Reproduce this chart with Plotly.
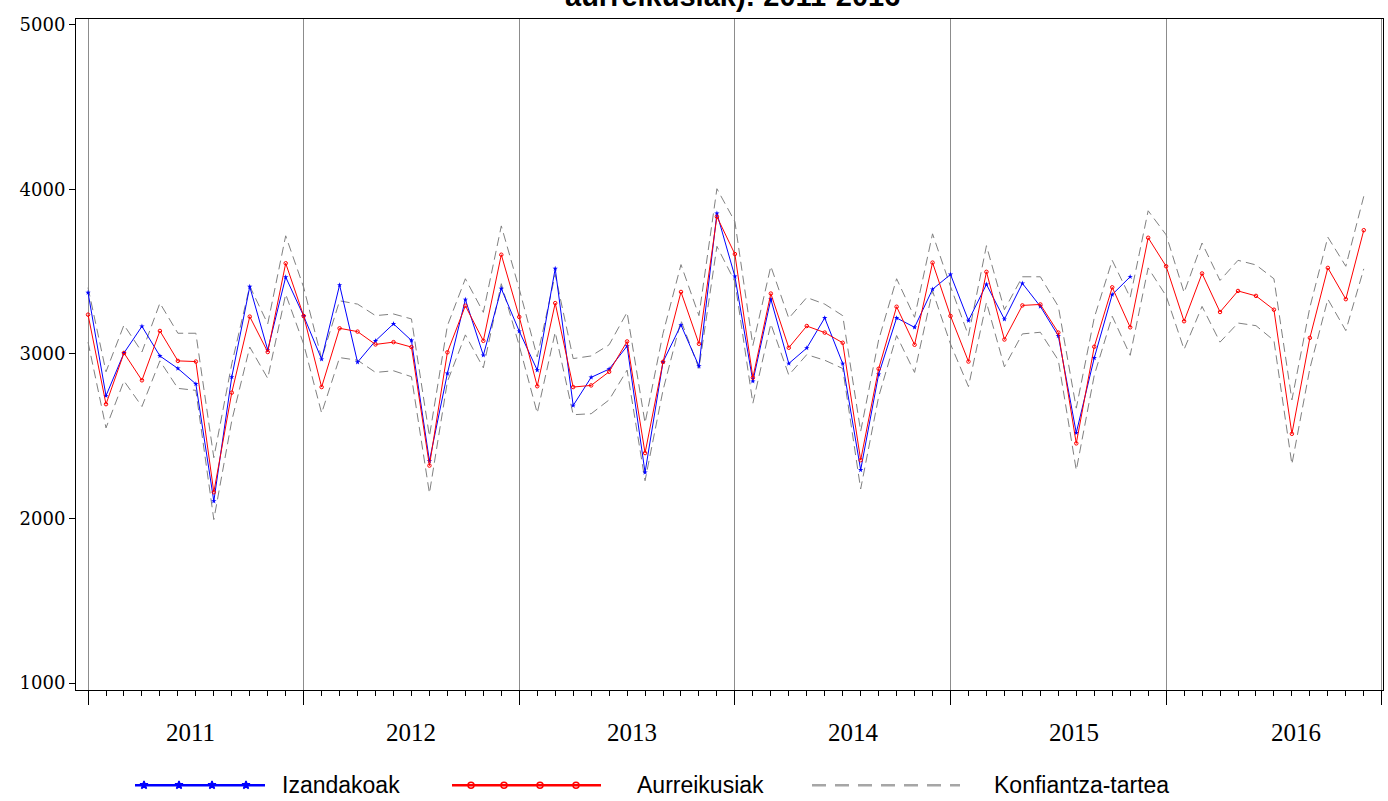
import plotly.graph_objects as go

# Monthly series, January 2011 to December 2016
YEARS = ["2011", "2012", "2013", "2014", "2015", "2016"]
MONTH_LABELS = [f"{y}-{m:02d}" for y in YEARS for m in range(1, 13)]

# Observed values (Izandakoak): Jan 2011 - Nov 2015
izandakoak = [
    3373, 2746, 3006, 3168, 2988, 2912, 2818, 2106, 2860, 3409, 3024, 3467,
    3231, 2968, 3419, 2950, 3080, 3183, 3082, 2350, 2882, 3331, 2992, 3397,
    3138, 2902, 3519, 2687, 2858, 2908, 3048, 2280, 2952, 3176, 2926, 3854,
    3471, 2834, 3333, 2942, 3036, 3219, 2942, 2296, 2876, 3219, 3162, 3393,
    3483, 3203, 3423, 3211, 3429, 3289, 3110, 2521, 2976, 3361, 3469,
]

# Forecast values (Aurreikusiak)
aurreikusiak = [
    3239, 2695, 3006, 2840, 3140, 2958, 2954, 2160, 2765, 3227, 3012, 3551,
    3231, 2799, 3156, 3136, 3058, 3072, 3042, 2322, 3010, 3293, 3080, 3603,
    3225, 2804, 3309, 2799, 2809, 2892, 3076, 2398, 2952, 3377, 3062, 3834,
    3607, 2856, 3367, 3038, 3170, 3130, 3068, 2355, 2910, 3287, 3056, 3555,
    3231, 2954, 3499, 3088, 3295, 3301, 3130, 2457, 3044, 3405, 3162, 3706,
    3533, 3199, 3489, 3255, 3383, 3353, 3269, 2515, 3098, 3523, 3333, 3752,
]

# Confidence interval bounds (Konfiantza-tartea)
ci_upper = [
    3403, 2892, 3176, 3012, 3309, 3126, 3126, 2370, 2940, 3412, 3183, 3718,
    3405, 2972, 3323, 3303, 3233, 3243, 3213, 2500, 3172, 3457, 3253, 3778,
    3395, 2982, 3483, 2972, 2988, 3056, 3253, 2581, 3125, 3543, 3233, 4004,
    3804, 3052, 3533, 3217, 3343, 3303, 3233, 2530, 3085, 3457, 3223, 3730,
    3410, 3112, 3658, 3269, 3469, 3469, 3289, 2671, 3220, 3569, 3343, 3870,
    3724, 3373, 3674, 3447, 3569, 3541, 3457, 2721, 3283, 3710, 3533, 3958,
]
ci_lower = [
    3072, 2551, 2836, 2681, 2958, 2791, 2779, 1994, 2595, 3042, 2852, 3363,
    3060, 2641, 2978, 2962, 2888, 2898, 2862, 2154, 2832, 3116, 2916, 3427,
    3050, 2641, 3132, 2631, 2637, 2721, 2902, 2230, 2780, 3203, 2912, 3654,
    3440, 2701, 3183, 2872, 2996, 2962, 2912, 2180, 2740, 3112, 2888, 3383,
    3060, 2802, 3313, 2922, 3122, 3132, 2962, 2294, 2870, 3229, 2992, 3523,
    3353, 3028, 3289, 3072, 3188, 3172, 3082, 2330, 2912, 3333, 3142, 3517,
]

Y_TICKS = [1000, 2000, 3000, 4000, 5000]

W, H = 1388, 801
x_all = list(range(len(MONTH_LABELS)))
x_obs = x_all[:len(izandakoak)]

BLUE = "#0000ff"
RED = "#ff0000"
GREY = "#808080"

fig = go.Figure()

# Confidence band edges
for bound in (ci_upper, ci_lower):
    fig.add_trace(go.Scatter(
        x=x_all, y=bound, mode="lines", hoverinfo="skip",
        line=dict(color=GREY, width=1, dash="9px,5px"),
    ))

fig.add_trace(go.Scatter(
    x=x_obs, y=izandakoak, mode="lines+markers", name="Izandakoak",
    line=dict(color=BLUE, width=1),
    marker=dict(symbol="star", size=4, color=BLUE),
))
fig.add_trace(go.Scatter(
    x=x_all, y=aurreikusiak, mode="lines+markers", name="Aurreikusiak",
    line=dict(color=RED, width=1),
    marker=dict(symbol="circle-open", size=3.5, color=RED, line=dict(width=1)),
))

# Pixel-space overlay used for the legend, year labels and title
px_axis = dict(domain=[0, 1], visible=False, fixedrange=True)
fig.update_layout(
    xaxis2=dict(range=[0, W], anchor="y2", **px_axis),
    yaxis2=dict(range=[H, 0], anchor="x2", **px_axis),
)

# Legend glyphs
legend_items = [
    ("Izandakoak", BLUE, 135, 265, [144, 179, 212, 246], "star", "solid", 280),
    ("Aurreikusiak", RED, 452, 601, [471, 504, 540, 576], "circle-open", "solid", 635),
    ("Konfiantza-tartea", "#a6a6a6", 812, 960, [], None, "14px,9px", 992),
]
LEG_Y = 788
for label, col, x0, x1, mk, sym, dash, tx in legend_items:
    fig.add_shape(type="line", xref="x2", yref="y2", x0=x0, x1=x1, y0=LEG_Y, y1=LEG_Y,
                  line=dict(color=col, width=2.5, dash=dash))
    if mk:
        fig.add_trace(go.Scatter(
            x=mk, y=[LEG_Y] * len(mk), xaxis="x2", yaxis="y2", mode="markers",
            hoverinfo="skip",
            marker=dict(symbol=sym, size=6, color=col, line=dict(width=1.5, color=col)),
        ))
    fig.add_annotation(xref="x2", yref="y2", x=tx, y=LEG_Y, text=label,
                       showarrow=False, xanchor="left", yanchor="middle",
                       font=dict(family="Liberation Sans, Arial", size=23, color="#000"))

# Year labels under each block of twelve months
for k, yr in enumerate(YEARS):
    fig.add_annotation(xref="x", yref="y2", x=5.7 + 12.3 * k, y=735, text=yr,
                       showarrow=False, xanchor="center", yanchor="middle",
                       font=dict(family="Liberation Serif, Times New Roman", size=25, color="#000"))

# Title (second line)
fig.add_annotation(xref="x2", yref="y2", x=732, y=9, text="<b>aurreikusiak): 2011-2016</b>",
                   showarrow=False, xanchor="center", yanchor="bottom",
                   font=dict(family="Liberation Sans, Arial", size=29, color="#000"))

fig.update_layout(
    width=W, height=H,
    margin=dict(l=0, r=0, t=0, b=0),
    paper_bgcolor="white", plot_bgcolor="rgba(0,0,0,0)",
    showlegend=False,
    xaxis=dict(
        domain=[76 / W, 1383 / W],
        range=[-0.67, 72.07],
        tickvals=list(range(0, 73, 12)),
        showticklabels=False,
        ticks="outside", ticklen=14, tickcolor="#000", tickwidth=1,
        showgrid=True, gridcolor="#8c8c8c", gridwidth=1,
        showline=True, linecolor="#000", linewidth=1, mirror=True,
        zeroline=False,
        minor=dict(tick0=0, dtick=1, ticks="outside", ticklen=5,
                   tickcolor="#000", showgrid=False),
    ),
    yaxis=dict(
        domain=[(H - 692) / H, (H - 14) / H],
        range=[958, 5036],
        tickvals=Y_TICKS,
        ticks="outside", ticklen=6, tickcolor="#000",
        showgrid=False, zeroline=False,
        showline=True, linecolor="#000", linewidth=1, mirror=True,
        tickfont=dict(family="DejaVu Serif", size=18, color="#000"),
    ),
)

fig.write_html("out.html")
